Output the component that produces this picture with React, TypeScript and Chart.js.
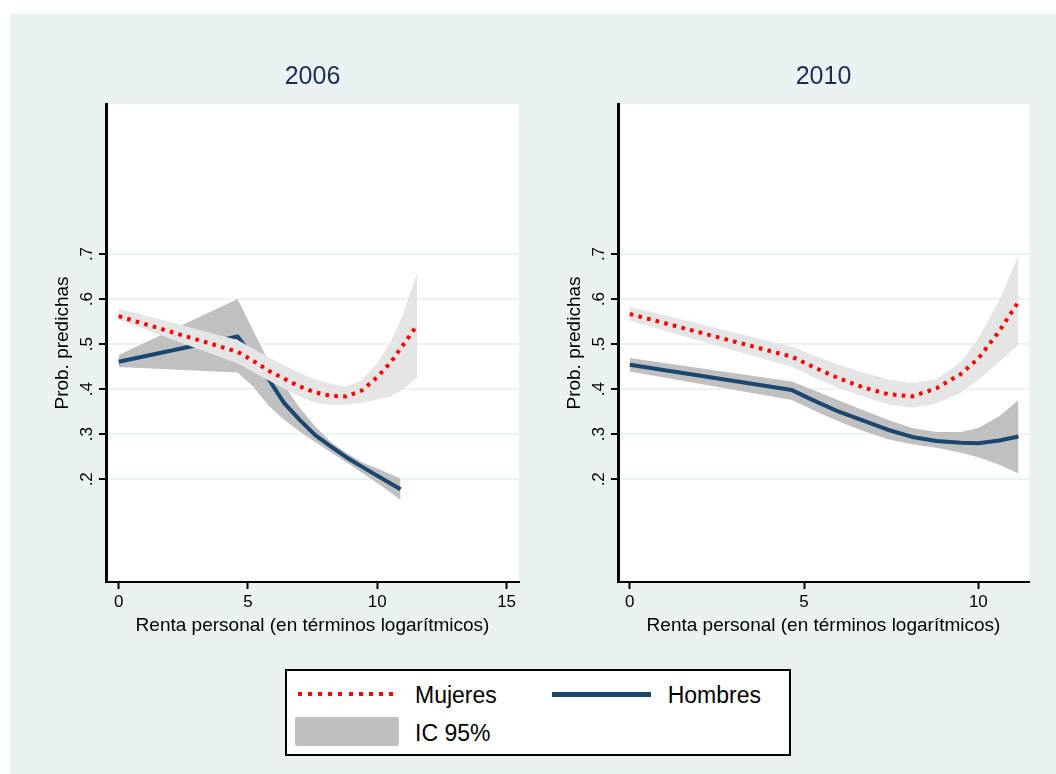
import React, { useEffect, useRef } from "react";
import { Chart, registerables } from "chart.js";

Chart.register(...registerables);

const FONT = '"Liberation Sans", Arial, Helvetica, sans-serif';

// Axis ticks
const yTicks = [0.2, 0.3, 0.4, 0.5, 0.6, 0.7];
const yTickLabels = [".2", ".3", ".4", ".5", ".6", ".7"];
const xTicks2006 = [0, 5, 10, 15];
const xTicks2010 = [0, 5, 10];

const panelTitles = ["2006", "2010"];
const xTitle = "Renta personal (en términos logarítmicos)";
const yTitle = "Prob. predichas";
const legendLabels = ["Mujeres", "Hombres", "IC 95%"];

// 2006 - Hombres
const hombres2006X = [0, 4.6, 5.2, 5.8, 6.4, 7.0, 7.6, 8.2, 8.8, 9.4, 10.0, 10.5, 10.9];
const hombres2006 = [0.461, 0.517, 0.47, 0.422, 0.369, 0.332, 0.298, 0.273, 0.249, 0.228, 0.208, 0.191, 0.178];
const hombres2006Hi = [0.476, 0.6, 0.53, 0.462, 0.408, 0.359, 0.317, 0.283, 0.259, 0.238, 0.224, 0.212, 0.202];
const hombres2006Lo = [0.449, 0.437, 0.406, 0.363, 0.332, 0.306, 0.283, 0.26, 0.238, 0.215, 0.192, 0.171, 0.154];

// 2006 - Mujeres
const mujeres2006X = [0, 4.6, 5.2, 5.8, 6.4, 7.0, 7.6, 8.2, 8.8, 9.4, 10.0, 10.5, 11.0, 11.55];
const mujeres2006 = [0.562, 0.483, 0.463, 0.441, 0.423, 0.406, 0.393, 0.385, 0.384, 0.397, 0.427, 0.458, 0.498, 0.543];
const mujeres2006Hi = [0.579, 0.509, 0.49, 0.471, 0.453, 0.436, 0.422, 0.412, 0.406, 0.42, 0.458, 0.503, 0.567, 0.66];
const mujeres2006Lo = [0.554, 0.457, 0.438, 0.419, 0.401, 0.384, 0.37, 0.365, 0.366, 0.37, 0.377, 0.383, 0.4, 0.426];

// 2010 - Hombres
const hombres2010X = [0, 4.65, 5.3, 6.0, 6.7, 7.4, 8.1, 8.8, 9.5, 10.0, 10.6, 11.15];
const hombres2010 = [0.454, 0.398, 0.374, 0.35, 0.33, 0.31, 0.294, 0.285, 0.281, 0.28, 0.286, 0.295];
const hombres2010Hi = [0.469, 0.417, 0.397, 0.375, 0.353, 0.332, 0.314, 0.305, 0.305, 0.314, 0.34, 0.376];
const hombres2010Lo = [0.439, 0.376, 0.352, 0.328, 0.307, 0.289, 0.278, 0.27, 0.259, 0.249, 0.232, 0.213];

// 2010 - Mujeres
const mujeres2010X = [0, 4.65, 5.3, 6.0, 6.7, 7.4, 8.1, 8.8, 9.5, 10.0, 10.6, 11.15];
const mujeres2010 = [0.567, 0.472, 0.448, 0.424, 0.404, 0.389, 0.384, 0.402, 0.434, 0.468, 0.529, 0.594];
const mujeres2010Hi = [0.583, 0.494, 0.474, 0.454, 0.437, 0.422, 0.413, 0.422, 0.461, 0.513, 0.597, 0.698];
const mujeres2010Lo = [0.552, 0.449, 0.426, 0.402, 0.384, 0.366, 0.359, 0.368, 0.392, 0.421, 0.461, 0.498];

const RED = "#ff0000";
const NAVY = "#1a476f";
const CI_DARK = "#c0c0c0";
const CI_LIGHT = "#e5e5e5";
const BG = "#eaf2f3";

type PanelProps = {
  left: number;
  width: number;
  padRight: number;
  title: string;
  xMin: number;
  xMax: number;
  xTicks: number[];
  mX: number[];
  m: number[];
  mHi: number[];
  mLo: number[];
  hX: number[];
  h: number[];
  hHi: number[];
  hLo: number[];
};

const pts = (xs: number[], ys: number[]) => xs.map((x, i) => ({ x, y: ys[i] }));

function Panel(p: PanelProps) {
  const ref = useRef<HTMLCanvasElement>(null);
  const TOP = 14;
  const HEIGHT = 646;

  useEffect(() => {
    if (!ref.current) return;
    const decor = {
      id: "decor",
      beforeDraw(chart: any) {
        const { ctx, chartArea } = chart;
        ctx.save();
        ctx.fillStyle = "#ffffff";
        ctx.fillRect(chartArea.left, chartArea.top, chartArea.right - chartArea.left, chartArea.bottom - chartArea.top);
        ctx.restore();
      },
      afterDraw(chart: any) {
        const { ctx, chartArea } = chart;
        const yScale = chart.scales.y;
        ctx.save();
        ctx.fillStyle = "#000";
        ctx.font = `17px ${FONT}`;
        ctx.textAlign = "center";
        ctx.textBaseline = "alphabetic";
        yTicks.forEach((v, i) => {
          const py = yScale.getPixelForValue(v);
          ctx.save();
          ctx.translate(chartArea.left - 14.5, py);
          ctx.rotate(-Math.PI / 2);
          ctx.fillText(yTickLabels[i], 0, 0);
          ctx.restore();
        });
        ctx.fillStyle = "#1e2d52";
        ctx.font = `25px ${FONT}`;
        ctx.fillText(p.title, (chartArea.left + chartArea.right) / 2, 84.3 - TOP);
        ctx.restore();
      },
    };

    const chart = new Chart(ref.current, {
      type: "line",
      data: {
        datasets: [
          {
            label: "Mujeres",
            data: pts(p.mX, p.m),
            borderColor: RED,
            borderWidth: 4,
            borderDash: [3.6, 5.3],
            borderCapStyle: "butt",
            pointRadius: 0,
            fill: false,
            tension: 0,
          },
          {
            label: "Mujeres hi",
            data: pts(p.mX, p.mHi),
            borderColor: "transparent",
            borderWidth: 0,
            backgroundColor: CI_LIGHT,
            pointRadius: 0,
            fill: "+1",
            tension: 0,
          },
          {
            label: "Mujeres lo",
            data: pts(p.mX, p.mLo),
            borderColor: "transparent",
            borderWidth: 0,
            pointRadius: 0,
            fill: false,
            tension: 0,
          },
          {
            label: "Hombres",
            data: pts(p.hX, p.h),
            borderColor: NAVY,
            borderWidth: 4,
            pointRadius: 0,
            fill: false,
            tension: 0,
            borderJoinStyle: "round",
          },
          {
            label: "Hombres hi",
            data: pts(p.hX, p.hHi),
            borderColor: "transparent",
            borderWidth: 0,
            backgroundColor: CI_DARK,
            pointRadius: 0,
            fill: "+1",
            tension: 0,
          },
          {
            label: "Hombres lo",
            data: pts(p.hX, p.hLo),
            borderColor: "transparent",
            borderWidth: 0,
            pointRadius: 0,
            fill: false,
            tension: 0,
          },
        ],
      },
      options: {
        responsive: false,
        animation: false,
        devicePixelRatio: 1,
        layout: { padding: { left: 0, top: 90, right: p.padRight, bottom: 0 } },
        plugins: {
          legend: { display: false },
          title: { display: false },
          tooltip: { enabled: false },
          filler: { propagate: false },
        },
        scales: {
          x: {
            type: "linear",
            min: p.xMin,
            max: p.xMax,
            afterBuildTicks: (s: any) => {
              s.ticks = p.xTicks.map((v) => ({ value: v }));
            },
            afterFit: (s: any) => {
              s.height = 78;
            },
            grid: {
              drawOnChartArea: false,
              drawTicks: true,
              tickLength: 7,
              tickColor: "#000",
              tickWidth: 2,
            },
            border: { display: true, color: "#000", width: 2 },
            ticks: {
              color: "#000",
              font: { family: FONT, size: 17 },
              padding: 3,
              maxRotation: 0,
              minRotation: 0,
              autoSkip: false,
              callback: (v: any) => String(v),
            },
            title: {
              display: true,
              text: xTitle,
              color: "#000",
              font: { family: FONT, size: 19 },
              padding: { top: 0, bottom: 23 },
            },
          },
          y: {
            type: "linear",
            min: -0.028,
            max: 1.033,
            afterBuildTicks: (s: any) => {
              s.ticks = yTicks.map((v) => ({ value: v }));
            },
            afterFit: (s: any) => {
              s.width = 96;
            },
            grid: {
              color: BG,
              lineWidth: 2,
              drawTicks: true,
              tickLength: 7,
              tickColor: "#000",
              tickWidth: 2,
            },
            border: { display: true, color: "#000", width: 3 },
            ticks: { display: false },
            title: {
              display: true,
              text: yTitle,
              color: "#000",
              font: { family: FONT, size: 19 },
              padding: { top: 41, bottom: 0 },
            },
          },
        },
      } as any,
      plugins: [decor],
    } as any);
    return () => chart.destroy();
  }, []);

  return (
    <canvas
      ref={ref}
      width={p.width}
      height={HEIGHT}
      style={{ position: "absolute", left: p.left, top: TOP, width: p.width, height: HEIGHT }}
    />
  );
}

export default function App() {
  const textStyle: React.CSSProperties = {
    position: "absolute",
    fontFamily: FONT,
    fontSize: 23,
    lineHeight: "23px",
    color: "#000",
    whiteSpace: "nowrap",
  };
  return (
    <div style={{ position: "fixed", left: 0, top: 0, width: 1056, height: 774, background: "#fff", overflow: "hidden" }}>
      <div style={{ position: "absolute", left: 10, top: 14, width: 1046, height: 760, background: BG }} />
      <Panel
        left={10}
        width={520}
        padRight={11}
        title={panelTitles[0]}
        xMin={-0.49}
        xMax={15.48}
        xTicks={xTicks2006}
        mX={mujeres2006X}
        m={mujeres2006}
        mHi={mujeres2006Hi}
        mLo={mujeres2006Lo}
        hX={hombres2006X}
        h={hombres2006}
        hHi={hombres2006Hi}
        hLo={hombres2006Lo}
      />
      <Panel
        left={522}
        width={534}
        padRight={27}
        title={panelTitles[1]}
        xMin={-0.338}
        xMax={11.453}
        xTicks={xTicks2010}
        mX={mujeres2010X}
        m={mujeres2010}
        mHi={mujeres2010Hi}
        mLo={mujeres2010Lo}
        hX={hombres2010X}
        h={hombres2010}
        hHi={hombres2010Hi}
        hLo={hombres2010Lo}
      />
      <div
        style={{
          position: "absolute",
          left: 285,
          top: 669,
          width: 506,
          height: 87,
          boxSizing: "border-box",
          border: "2px solid #000",
          background: "#fff",
        }}
      >
        <div
          style={{
            position: "absolute",
            left: 11,
            top: 21,
            width: 96,
            height: 4,
            background: `repeating-linear-gradient(to right, ${RED} 0px, ${RED} 4px, transparent 4px, transparent 10.1px)`,
          }}
        />
        <div style={{ ...textStyle, left: 128, top: 12.5 }}>{legendLabels[0]}</div>
        <div style={{ position: "absolute", left: 264.7, top: 20.5, width: 99, height: 5.5, background: NAVY }} />
        <div style={{ ...textStyle, left: 380.7, top: 12.5 }}>{legendLabels[1]}</div>
        <div
          style={{
            position: "absolute",
            left: 8,
            top: 45.7,
            width: 104,
            height: 29,
            borderRadius: 2,
            background: "#bfbfbf",
          }}
        />
        <div style={{ ...textStyle, left: 128, top: 50.5 }}>{legendLabels[2]}</div>
      </div>
    </div>
  );
}
